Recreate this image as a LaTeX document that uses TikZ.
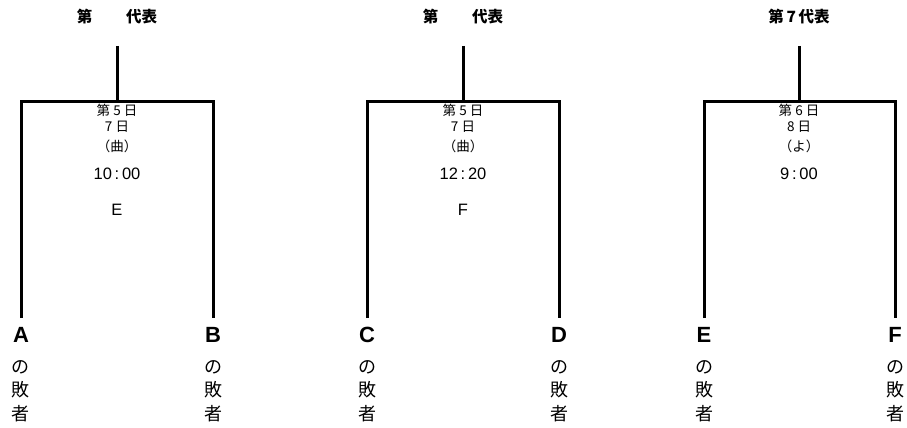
\documentclass[tikz,border=0pt]{standalone}
\usepackage{fontspec}
\setmainfont{Noto Sans CJK JP}
\newfontfamily\lat{Liberation Sans}
\usetikzlibrary{positioning}

\begin{document}
\begin{tikzpicture}[x=1pt,y=-1pt,line width=3pt,
  hdr/.style={font=\bfseries\fontsize{15.5}{15}\selectfont,inner sep=0},
  info/.style={font=\fontsize{13.5}{13}\selectfont,inner sep=0},
  tm/.style={font=\lat\fontsize{16.5}{16}\selectfont,inner sep=0},
  team/.style={font=\lat\bfseries\fontsize{22}{22}\selectfont,inner sep=0},
  loser/.style={font=\fontsize{18}{23.5}\selectfont,align=center,inner sep=0}]
\useasboundingbox (0,0) rectangle (907,428);
\foreach \n/\l/\m/\r/\t/\d/\w/\h/\k/\g/\a/\b in {
  1/21/117/213/{第\hspace{34pt}代表}/5/7/曲/{10\,:\,00}/E/A/B,
  2/367/463/559/{第\hspace{34pt}代表}/5/7/曲/{12\,:\,20}/F/C/D,
  3/704/799/895/{第\,7\,代表}/6/8/よ/{9\,:\,00}//E/F} {
  \node[hdr] (t\n) at (\m,17) {\t};
  \coordinate (s\n) at (\m,46);
  \coordinate (j\n) at (\m,101);
  \coordinate (pa\n) at (\l,318);
  \coordinate (pb\n) at (\r,318);
  \draw (s\n) -- (j\n);
  \draw (pa\n) |- (j\n) -| (pb\n);
  % match info
  \node[info] (d\n) at (\m,110) {第 \d{} 日};
  \node[info] (w\n) at (\m,127) {\w{} 日};
  \node[info] (h\n) at (\m,146) {（\h）};
  \node[tm] (k\n) at (\m,174) {\k};
  \node[tm] (g\n) at (\m,210) {\g};
  % losers
  \node[team] (a\n) at (\l,335) {\a};
  \node[team] (b\n) at (\r,335) {\b};
  \node[loser] (la\n) at (\l,391) {の\\敗\\者};
  \node[loser] (lb\n) at (\r,391) {の\\敗\\者};
}
\end{tikzpicture}
\end{document}
